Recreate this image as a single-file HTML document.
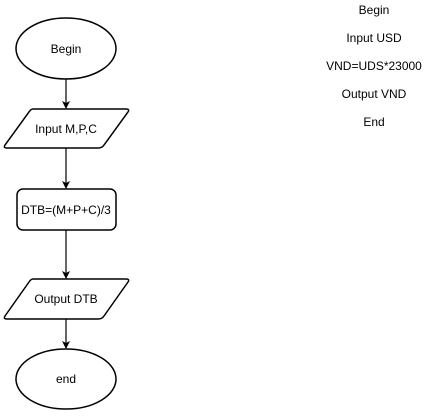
<!DOCTYPE html>
<html><head><style>
body{margin:0;background:#fff;}
svg text{font-family:"Liberation Sans",Arial,sans-serif;font-size:12px;fill:#000;}
</style></head><body>
<svg width="430" height="411" viewBox="0 0 430 411" xmlns="http://www.w3.org/2000/svg">
<defs><marker id="a" markerWidth="8" markerHeight="8" refX="7" refY="4" orient="auto" markerUnits="userSpaceOnUse"><path d="M0,0 L8,4 L0,8 L2,4 z" fill="#000"/></marker></defs>
<g fill="#fff" stroke="#000" stroke-width="1.5">
<ellipse cx="66" cy="48.5" rx="50" ry="30.5"/>
<path d="M33,109 H126 Q130,109 128,112 L104,145 Q102,148 98,148 H7 Q3,148 5,145 L29,112 Q31,109 33,109 Z"/>
<rect x="17" y="189" width="99" height="41" rx="6"/>
<path d="M33,279 H126 Q130,279 128,282 L104,316 Q102,319 98,319 H7 Q3,319 5,316 L29,282 Q31,279 33,279 Z"/>
<ellipse cx="66" cy="379" rx="50" ry="30"/>
</g>
<g stroke="#000" stroke-width="1.2" marker-end="url(#a)">
<line x1="66" y1="79" x2="66" y2="108"/>
<line x1="66" y1="148" x2="66" y2="188"/>
<line x1="66" y1="230" x2="66" y2="278"/>
<line x1="66" y1="319" x2="66" y2="348"/>
</g>
<g text-anchor="middle">
<text x="66" y="53">Begin</text>
<text x="66" y="133">Input M,P,C</text>
<text x="66" y="214">DTB=(M+P+C)/3</text>
<text x="66" y="303">Output DTB</text>
<text x="66" y="383">end</text>
<text x="374" y="14" font-size="11">Begin</text>
<text x="374" y="42" font-size="11">Input USD</text>
<text x="374" y="70" font-size="11">VND=UDS*23000</text>
<text x="374" y="98" font-size="11">Output VND</text>
<text x="374" y="126" font-size="11">End</text>
</g>
</svg>
</body></html>
